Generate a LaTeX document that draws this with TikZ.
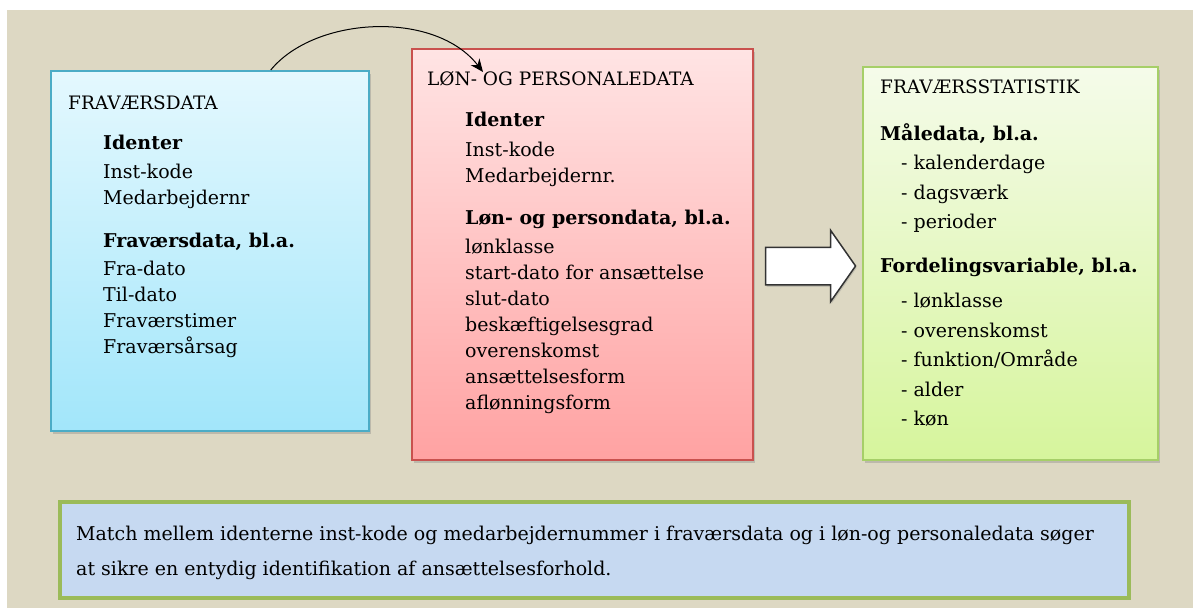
\documentclass[tikz,border=0pt]{standalone}
\usepackage{xcolor}
\usepackage{fontspec}
\setmainfont{DejaVu Serif}
\usepackage{tikz}
\usetikzlibrary{shapes.arrows, arrows.meta, positioning, shadows}
\definecolor{bgbeige}{HTML}{DDD8C3}
\definecolor{bluetop}{HTML}{E4F8FE}
\definecolor{bluebot}{HTML}{A2E6FA}
\definecolor{blueedge}{HTML}{4BACC6}
\definecolor{redtop}{HTML}{FFE4E4}
\definecolor{redbot}{HTML}{FFA2A2}
\definecolor{rededge}{HTML}{C9514E}
\definecolor{greentop}{HTML}{F5FBEA}
\definecolor{greenbot}{HTML}{D6F59C}
\definecolor{greenedge}{HTML}{A6CF68}
\definecolor{notefill}{HTML}{C6D9F1}
\definecolor{noteedge}{HTML}{9BBB59}
\tikzset{
    databox/.style={rectangle, anchor=north west, line width=1.5pt, drop shadow={shadow xshift=2pt, shadow yshift=-3pt, opacity=0.35}},
    heading/.style={anchor=north west, inner sep=0pt, font=\fontsize{18.5}{22}\selectfont},
    fields/.style={anchor=north west, inner sep=0pt, align=left, font=\fontsize{19}{26}\selectfont},
    blockarrow/.style={single arrow, draw=black!80, fill=white, line width=1.5pt, minimum height=90pt, inner sep=18pt, single arrow head extend=17pt, single arrow tip angle=110, drop shadow={shadow xshift=1pt, shadow yshift=-2pt, opacity=0.3}},
    arrow/.style={-{Stealth[length=13pt, width=11pt]}, line width=1pt}
}

\begin{document}
\begin{tikzpicture}[x=1pt, y=-1pt, node distance=10pt]
\useasboundingbox (0,0) rectangle (1193,608);
\fill[bgbeige] (7,10) rectangle (1193,608);

% left box
\node (fravaer) [databox, draw=blueedge, top color=bluetop, bottom color=bluebot, minimum width=318pt, minimum height=360pt] at (50,70) {};
\node (fravaertitle) [heading, below right=26pt and 18pt of fravaer.north west] {FRAVÆRSDATA};
\node (fravaerfields) [fields, below right=65pt and 53pt of fravaer.north west] {%
    \textbf{Identer}\\[3pt]
    Inst-kode\\
    Medarbejdernr\\[17pt]
    \textbf{Fraværsdata, bl.a.}\\[2pt]
    Fra-dato\\
    Til-dato\\
    Fraværstimer\\
    Fraværsårsag};

% middle box
\node (loen) [databox, draw=rededge, top color=redtop, bottom color=redbot, minimum width=341pt, minimum height=411pt] at (411,48) {};
\node (loentitle) [heading, below right=23pt and 16pt of loen.north west] {LØN- OG PERSONALEDATA};
\node (loenfields) [fields, below right=64pt and 54pt of loen.north west] {%
    \textbf{Identer}\\[4pt]
    Inst-kode\\
    Medarbejdernr.\\[16pt]
    \textbf{Løn- og persondata, bl.a.}\\[3pt]
    lønklasse\\
    start-dato for ansættelse\\
    slut-dato\\
    beskæftigelsesgrad\\
    overenskomst\\
    ansættelsesform\\
    aflønningsform};

% right box
\node (statistik) [databox, draw=greenedge, top color=greentop, bottom color=greenbot, minimum width=295pt, minimum height=393pt] at (862,66) {};
\node (statistiktitle) [heading, below right=14pt and 18pt of statistik.north west] {FRAVÆRSSTATISTIK};
\node (statistikfields) [fields, below right=57pt and 18pt of statistik.north west, font=\fontsize{19}{29.5}\selectfont] {%
    \textbf{Måledata, bl.a.}\\
    \hspace*{21pt}- kalenderdage\\
    \hspace*{21pt}- dagsværk\\
    \hspace*{21pt}- perioder\\[14pt]
    \textbf{Fordelingsvariable, bl.a.}\\[6pt]
    \hspace*{21pt}- lønklasse\\
    \hspace*{21pt}- overenskomst\\
    \hspace*{21pt}- funktion/Område\\
    \hspace*{21pt}- alder\\
    \hspace*{21pt}- køn};

% note
\node (note) [rectangle, anchor=north west, draw=noteedge, fill=notefill, line width=4pt, minimum width=1069pt, minimum height=96pt] at (58,500) {};
\node (notetext) [anchor=west, inner sep=0pt, align=left, font=\fontsize{19}{35}\selectfont, right=18pt of note.west, yshift=-3pt] {%
    Match mellem identerne inst-kode og medarbejdernummer i fraværsdata og i løn-og personaledata søger\\
    at sikre en entydig identifikation af ansættelsesforhold.};

% arrows
\node (toarrow) [blockarrow] at (804,266) {};
\coordinate (curvestart) at ([xshift=61pt]fravaer.north);
\coordinate (curveend) at (483,72);
\draw[arrow] (curvestart) .. controls (315,16) and (435,10) .. (curveend);
\end{tikzpicture}
\end{document}
